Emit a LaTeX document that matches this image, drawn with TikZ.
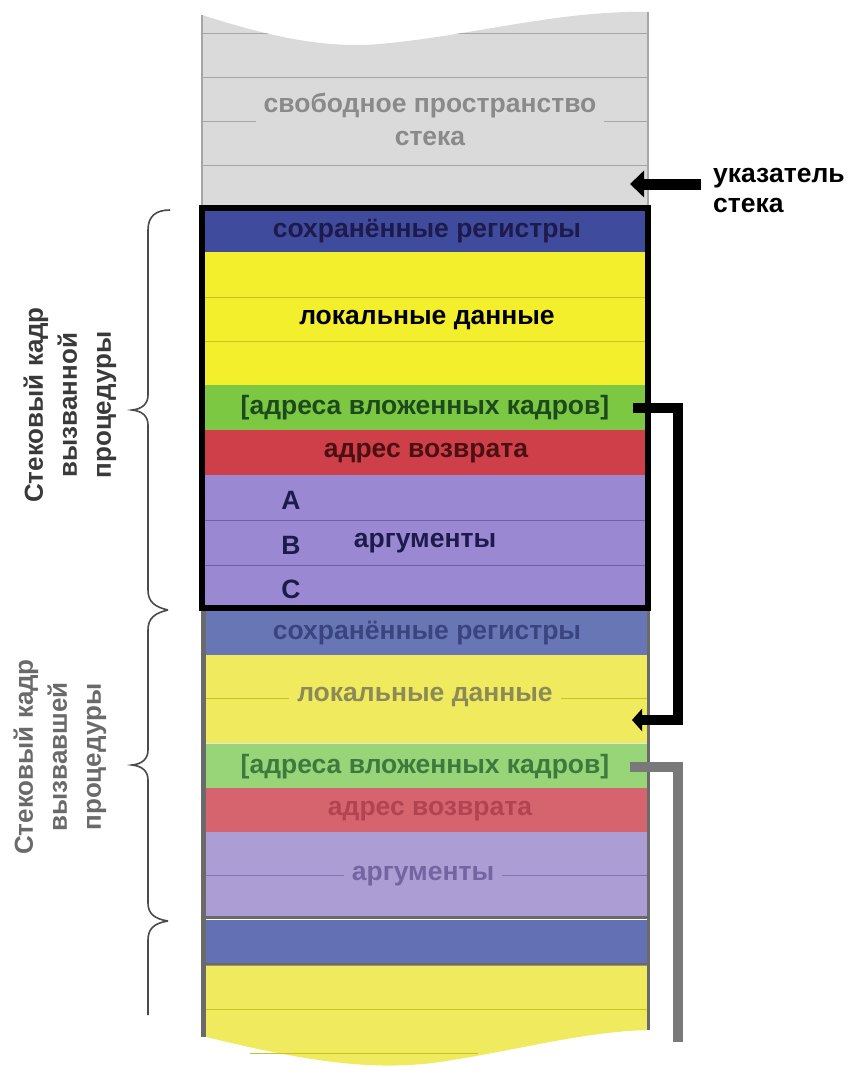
\documentclass[tikz,border=0pt]{standalone}
\usepackage{fontspec}
\setmainfont{Liberation Sans}
\usetikzlibrary{arrows.meta}
\definecolor{gbg}{HTML}{DADADA}
\definecolor{gline}{HTML}{A6A6A6}
\definecolor{gtxt}{HTML}{8A8A8A}
\definecolor{dkblue}{HTML}{3F4B9C}
\definecolor{yel}{HTML}{F4EF2C}
\definecolor{yline}{HTML}{C9C222}
\definecolor{grn}{HTML}{7DC843}
\definecolor{grntxt}{HTML}{1D4A1D}
\definecolor{red1}{HTML}{CF3F49}
\definecolor{redtxt}{HTML}{4A1012}
\definecolor{pur}{HTML}{9A89D2}
\definecolor{purline}{HTML}{6E5FA8}
\definecolor{navytxt}{HTML}{1E1B4C}
\definecolor{fblue}{HTML}{6976B6}
\definecolor{fbluetxt}{HTML}{3A4580}
\definecolor{fyel}{HTML}{F0EB5E}
\definecolor{fyeltxt}{HTML}{8C8A58}
\definecolor{fgrn}{HTML}{98D478}
\definecolor{fgrntxt}{HTML}{3E7A3E}
\definecolor{fred}{HTML}{D6646F}
\definecolor{fredtxt}{HTML}{B24452}
\definecolor{fpur}{HTML}{AC9DD5}
\definecolor{fpurtxt}{HTML}{7464A2}
\definecolor{blue3}{HTML}{6470B4}
\definecolor{sepgray}{HTML}{6A6A6A}
\definecolor{bracegray}{HTML}{4A4A4A}
\definecolor{lbl1}{HTML}{3A3A3A}
\definecolor{lbl2}{HTML}{6A6A6A}
\begin{document}
\begin{tikzpicture}[x=1pt,y=-1pt,
  row/.style={anchor=north west, minimum width=446pt, inner sep=0pt, outer sep=0pt, draw=none},
  txt/.style={font=\bfseries\fontsize{26.5}{30}\selectfont, inner sep=0pt},
  gap/.style={inner xsep=8pt, inner ysep=1pt},
  rowline/.style={line width=1pt},
  bracestyle/.style={draw=bracegray, line width=1.6pt},
  vlabel/.style={rotate=90, align=center, font=\bfseries\fontsize{26}{34}\selectfont}
]
\useasboundingbox (0,0) rectangle (859,1079);

% ---------- free stack space (top, gray) ----------
\begin{scope}
  \clip (202,15) .. controls (280,40) and (330,48) .. (380,44)
        .. controls (470,36) and (560,10) .. (648,12) -- (648,208) -- (202,208) -- cycle;
  \fill[gbg] (200,0) rectangle (650,208);
  \foreach \yy in {33,77,121,165} \draw[gline, rowline] (202,\yy) -- (648,\yy);
\end{scope}
\draw[gline, line width=1.2pt] (202,15) -- (202,208);
\draw[gline, line width=1.2pt] (648,12) -- (648,208);
\node[txt, gap, fill=gbg, text=gtxt, align=center, font=\bfseries\fontsize{26.5}{33}\selectfont] (free) at (430,119) {свободное пространство\\стека};

% ---------- called procedure frame ----------
\node[row, fill=dkblue, minimum height=44pt] (regs1) at (202,208) {};
\node[txt, text=navytxt] (regs1t) at (427,231) {сохранённые регистры};
\node[row, fill=yel, minimum height=133pt] (loc1) at (202,252) {};
\draw[yline, rowline] (202,297) -- (648,297);
\draw[yline, rowline] (202,341) -- (648,341);
\node[txt, text=black] (loc1t) at (427,320) {локальные данные};
\node[row, fill=grn, minimum height=45pt] (nest1) at (202,385) {};
\node[txt, text=grntxt] (nest1t) at (425,408) {[адреса вложенных кадров]};
\node[row, fill=red1, minimum height=45pt] (ret1) at (202,430) {};
\node[txt, text=redtxt] (ret1t) at (426,453) {адрес возврата};
\node[row, fill=pur, minimum height=133pt] (args1) at (202,475) {};
\draw[purline, rowline] (202,520) -- (648,520);
\draw[purline, rowline] (202,565) -- (648,565);
\node[txt, text=navytxt] (argA) at (291,500) {A};
\node[txt, text=navytxt] (argB) at (291,545) {B};
\node[txt, text=navytxt] (argC) at (291,589) {C};
\node[txt, text=navytxt] (args1t) at (425,543) {аргументы};

% ---------- caller frame (faded) ----------
\node[row, fill=fblue, minimum height=45pt] (regs2) at (202,610) {};
\node[txt, text=fbluetxt] (regs2t) at (427,633) {сохранённые регистры};
\node[row, fill=fyel, minimum height=88pt] (loc2) at (202,655) {};
\draw[yline, rowline] (202,698) -- (648,698);
\node[txt, gap, fill=fyel, text=fyeltxt] (loc2t) at (425,697) {локальные данные};
\draw[white!80!gray, line width=1.5pt] (202,743.5) -- (648,743.5);
\node[row, fill=fgrn, minimum height=44pt] (nest2) at (202,744) {};
\node[txt, text=fgrntxt] (nest2t) at (425,767) {[адреса вложенных кадров]};
\node[row, fill=fred, minimum height=44pt] (ret2) at (202,788) {};
\node[txt, text=fredtxt] (ret2t) at (430,811) {адрес возврата};
\node[row, fill=fpur, minimum height=84pt] (args2) at (202,832) {};
\draw[purline!70!fpur, rowline] (202,875) -- (648,875);
\node[txt, gap, fill=fpur, text=fpurtxt] (args2t) at (423,876) {аргументы};
\draw[sepgray, line width=3.5pt] (202,917.5) -- (648,917.5);
\node[row, fill=blue3, minimum height=43pt] (regs3) at (202,919.5) {};
\draw[sepgray, line width=3pt] (202,964) -- (648,964);
\fill[fyel] (202,965.5) -- (648,965.5) -- (648,1030)
   .. controls (580,1032) and (520,1050) .. (440,1062)
   .. controls (370,1072) and (300,1060) .. (202,1036) -- cycle;
\draw[yline, rowline] (202,1009) -- (648,1009);
\draw[yline, rowline] (250,1053) -- (478,1053);
\draw[sepgray, line width=5pt] (203,610) -- (203,1037);
\draw[sepgray, line width=3pt] (648,610) -- (648,1030);

% ---------- frame outline ----------
\draw[black, line width=6pt] (202,208) rectangle (648,608);

% ---------- stack pointer ----------
\node[anchor=west, align=left, font=\bfseries\fontsize{26.5}{30}\selectfont, inner sep=0pt] (sp) at (713,190) {указатель\\стека};
\coordinate (sptip) at (630,184);
\draw[line width=11pt, -{Triangle[width=26pt,length=14pt]}] (sp.west |- sptip) ++(-12,0) -- (sptip);

% ---------- link arrows ----------
\coordinate (l1s) at (633,408);
\coordinate (l1e) at (632,720);
\draw[black, line width=10pt, -{Triangle[width=22pt,length=10pt]}] (l1s) -- (678,408) -- (678,720) -- (l1e);
\coordinate (l2s) at (630,767);
\coordinate (l2e) at (678,1042);
\draw[sepgray!90!white, line width=10pt] (l2s) -- (l2e |- l2s) -- (l2e);

% ---------- braces ----------
\draw[bracestyle] (170,210) .. controls (156,210) and (148,216) .. (148,230) -- (148,395)
  .. controls (148,404) and (142,409) .. (132,410) .. controls (142,411) and (148,416) .. (148,425)
  -- (148,590) .. controls (148,602) and (155,607) .. (168,610);
\draw[bracestyle] (168,610) .. controls (155,613) and (148,618) .. (148,630) -- (148,750)
  .. controls (148,759) and (142,764) .. (132,765) .. controls (142,766) and (148,771) .. (148,780)
  -- (148,903) .. controls (148,914) and (155,919) .. (168,921);
\draw[bracestyle] (168,921) .. controls (155,923) and (148,928) .. (148,940) -- (148,1015);

% ---------- side labels ----------
\node[vlabel, text=lbl1] (lab1) at (70,405) {Стековый кадр\\вызванной\\процедуры};
\node[vlabel, text=lbl2] (lab2) at (60,757) {Стековый кадр\\вызвавшей\\процедуры};
\end{tikzpicture}
\end{document}
